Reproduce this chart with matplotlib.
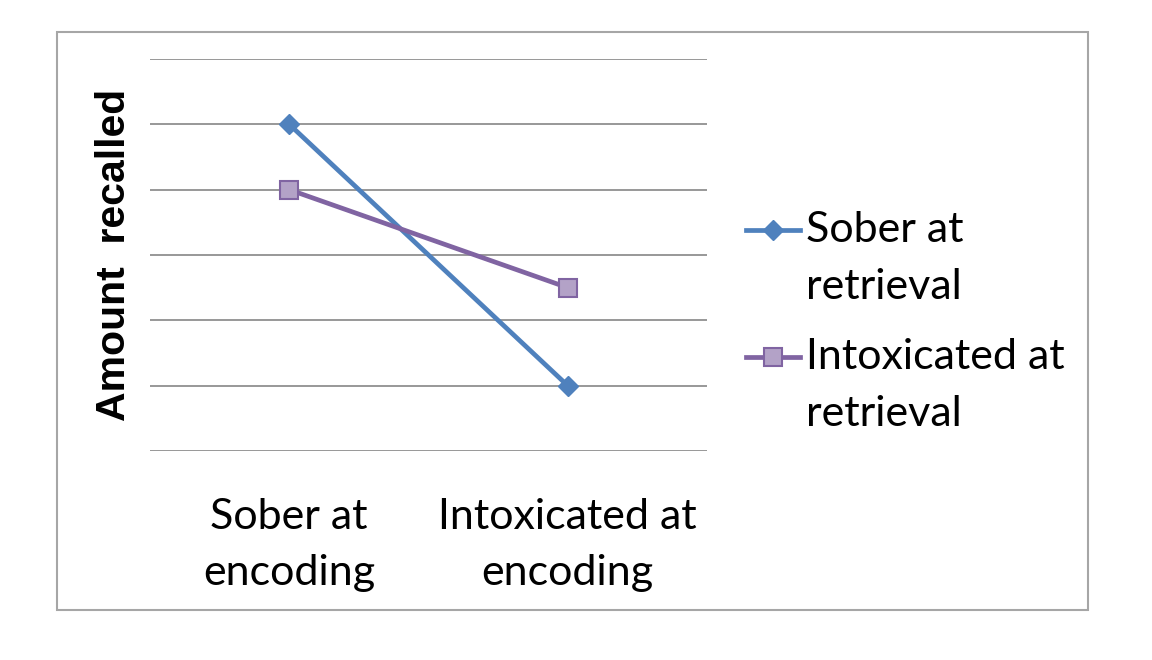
import matplotlib.pyplot as plt
from matplotlib.lines import Line2D
from matplotlib.patches import Rectangle

categories = ['Sober at\nencoding', 'Intoxicated at\nencoding']
series_names = ['Sober at\nretrieval', 'Intoxicated at\nretrieval']
sober_retrieval = [5, 1]
intox_retrieval = [4, 2.5]

blue = '#4F81BD'
purple = '#8064A2'
purple_face = '#B3A2C7'
body_font = 'Lato'

fig = plt.figure(figsize=(11.52, 6.6), dpi=100)

# outer chart frame
fig.patches.append(Rectangle((57 / 1152, 1 - 610 / 660), (1088 - 57) / 1152, (610 - 32) / 660,
                             transform=fig.transFigure, fill=False, edgecolor='#A6A6A6', lw=1.5))

ax = fig.add_axes([150 / 1152, 1 - 451 / 660, 557 / 1152, 392 / 660])
x = range(len(categories))
ax.plot(x, sober_retrieval, color=blue, lw=3.4, marker='D', ms=10,
        mfc=blue, mec=blue, zorder=3)
ax.plot(x, intox_retrieval, color=purple, lw=3.4, marker='s', ms=13,
        mfc=purple_face, mec=purple, mew=1.5, zorder=3)

ax.set_xlim(-0.5, 1.5)
ax.set_ylim(0, 6)
ax.set_yticks(range(0, 7))
ax.yaxis.grid(True, color='#868686', lw=1.2)
ax.set_axisbelow(True)
ax.tick_params(axis='y', length=0, labelleft=False)
ax.tick_params(axis='x', length=0, pad=34)
ax.set_xticks(list(x))
ax.set_xticklabels(categories, fontsize=31, family=body_font, linespacing=1.58)
for s in ax.spines.values():
    s.set_visible(False)

ax.set_ylabel('Amount  recalled', fontsize=29.5, fontweight='bold',
              family='Liberation Sans', labelpad=12)

# legend drawn by hand so the symbol sits on the first text line
leg_styles = [dict(color=blue, marker='D', ms=10, mfc=blue, mec=blue),
              dict(color=purple, marker='s', ms=13, mfc=purple_face, mec=purple, mew=1.5)]
leg_y = [1 - 230 / 660, 1 - 357 / 660]
for name, style, yy in zip(series_names, leg_styles, leg_y):
    fig.add_artist(Line2D([746 / 1152, 773 / 1152, 800 / 1152], [yy, yy, yy], lw=3.4,
                          markevery=[1], transform=fig.transFigure, **style))
    fig.text(806 / 1152, yy, name.split('\n')[0], fontsize=31, family=body_font,
             va='center', ha='left')
    fig.text(806 / 1152, yy - 57 / 660, name.split('\n')[1], fontsize=31, family=body_font,
             va='center', ha='left')

fig.savefig('out.png', dpi=100)
